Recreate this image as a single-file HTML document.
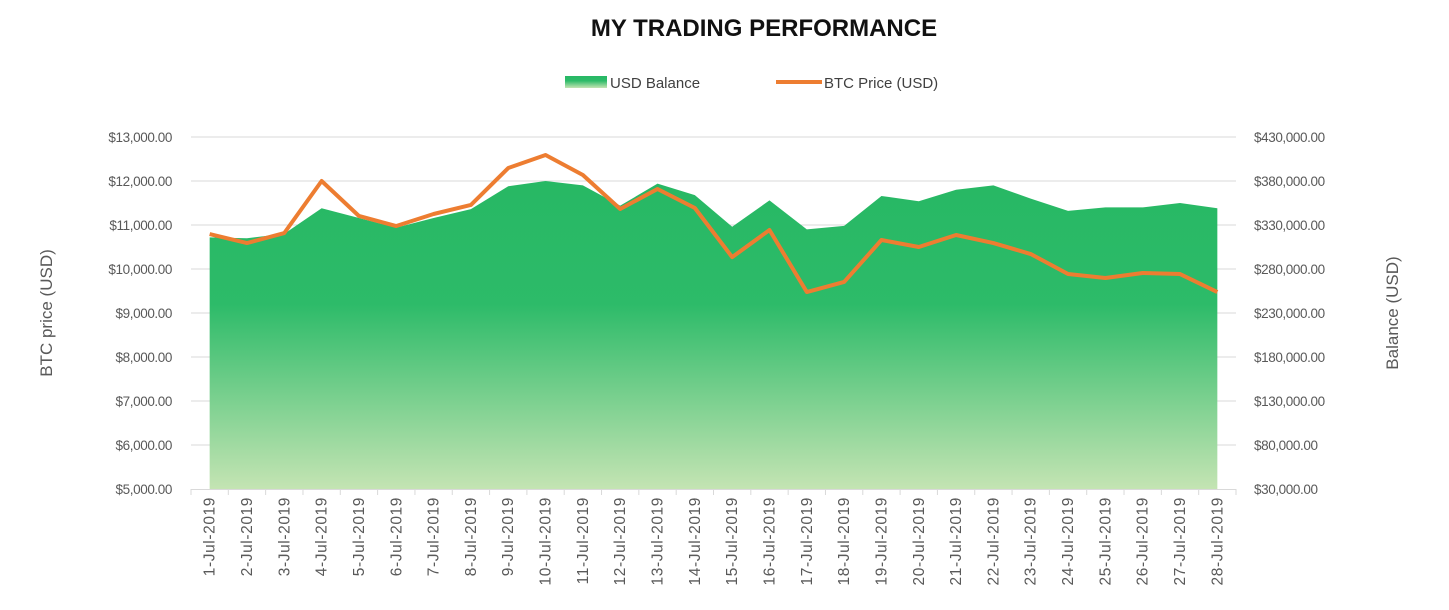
<!DOCTYPE html>
<html><head><meta charset="utf-8"><style>
body{margin:0;background:#fff;width:1449px;height:605px;overflow:hidden;font-family:"Liberation Sans",sans-serif}
</style></head><body>
<svg width="1449" height="605" xmlns="http://www.w3.org/2000/svg">
<defs><linearGradient id="g" x1="0" y1="0" x2="0" y2="1">
<stop offset="0" stop-color="#27b864"/><stop offset="0.4" stop-color="#2dbb69"/><stop offset="1" stop-color="#c4e4b3"/></linearGradient></defs>
<text x="764" y="36" text-anchor="middle" font-size="24" font-weight="bold" fill="#111">MY TRADING PERFORMANCE</text>
<g>
<rect x="565" y="76" width="42" height="12" fill="url(#g)"/>
<text x="610" y="88" font-size="15" fill="#404040">USD Balance</text>
<line x1="776" y1="82" x2="822" y2="82" stroke="#ed7d31" stroke-width="4"/>
<text x="824" y="88" font-size="15" fill="#404040">BTC Price (USD)</text>
</g>
<g id="grid"></g><g id="area"></g><g id="line"></g><g id="axes"></g>
<text transform="translate(52,313) rotate(-90)" text-anchor="middle" font-size="17" fill="#595959">BTC  price (USD)</text>
<text transform="translate(1398,313) rotate(-90)" text-anchor="middle" font-size="17" fill="#595959">Balance (USD)</text>
</svg>
<script>
const categories=[];for(let d=1;d<=28;d++)categories.push(d+'-Jul-2019');
const btcPrice=[10795,10590,10818,12000,11205,10977,11250,11455,12295,12590,12136,11364,11818,11386,10270,10886,9477,9705,10659,10500,10773,10590,10340,9886,9795,9909,9886,9477];
const usdBalance=[316000,315000,320000,349000,338000,327000,338000,348000,374000,380000,375000,352000,377000,364000,328000,358000,325000,329000,363000,357000,370000,375000,360000,346000,350000,350000,355000,349000];
const leftTicks=[5000,6000,7000,8000,9000,10000,11000,12000,13000];
const rightTicks=[30000,80000,130000,180000,230000,280000,330000,380000,430000];
const NS='http://www.w3.org/2000/svg';
const X0=191,X1=1236,Y0=489,Y1=137;
const step=(X1-X0)/categories.length;
const xs=i=>X0+step*(i+0.5);
const yL=v=>Y0-(v-5000)/(13000-5000)*(Y0-Y1);
const yR=v=>Y0-(v-30000)/(430000-30000)*(Y0-Y1);
function mk(t,a,p){const e=document.createElementNS(NS,t);for(const k in a)e.setAttribute(k,a[k]);p.appendChild(e);return e;}
const grid=document.getElementById('grid'),axes=document.getElementById('axes');
leftTicks.forEach((v,i)=>{
 const y=yL(v);
 if(i>0){const l=mk('line',{x1:X0,x2:X1,y1:y,y2:y,stroke:'#d9d9d9','stroke-width':1},grid);
 
 }
 const t=mk('text',{x:172,y:y+5,'text-anchor':'end','font-size':13.5,'letter-spacing':'-0.4',fill:'#595959'},axes);t.textContent='$'+v.toLocaleString('en-US')+'.00';
 
 
});
rightTicks.forEach(v=>{
 const t=mk('text',{x:1254,y:yR(v)+5,'font-size':13.5,'letter-spacing':'-0.4',fill:'#595959'},axes);t.textContent='$'+v.toLocaleString('en-US')+'.00';
 
 
});
let d='M'+xs(0)+','+Y0;usdBalance.forEach((v,i)=>d+=' L'+xs(i)+','+yR(v));d+=' L'+xs(usdBalance.length-1)+','+Y0+' Z';
const a=mk('path',{d:d,fill:'url(#g)'},document.getElementById('area'));


const pl=mk('polyline',{points:btcPrice.map((v,i)=>xs(i)+','+yL(v)).join(' '),fill:'none',stroke:'#ed7d31','stroke-width':4,'stroke-linejoin':'round'},document.getElementById('line'));


const ax=mk('line',{x1:X0,x2:X1,y1:Y0+0.5,y2:Y0+0.5,stroke:'#d9d9d9','stroke-width':1},axes);


for(let i=0;i<=categories.length;i++){const x=X0+step*i;mk('line',{x1:x,x2:x,y1:Y0,y2:Y0+6,stroke:'#d9d9d9'},axes);}
categories.forEach((c,i)=>{
 const t=mk('text',{transform:'translate('+(xs(i)+5)+','+(Y0+8)+') rotate(-90)','text-anchor':'end','font-size':15.5,'letter-spacing':'0.6',fill:'#595959'},axes);
 t.textContent=c;
 
 
});
</script>
</body></html>
